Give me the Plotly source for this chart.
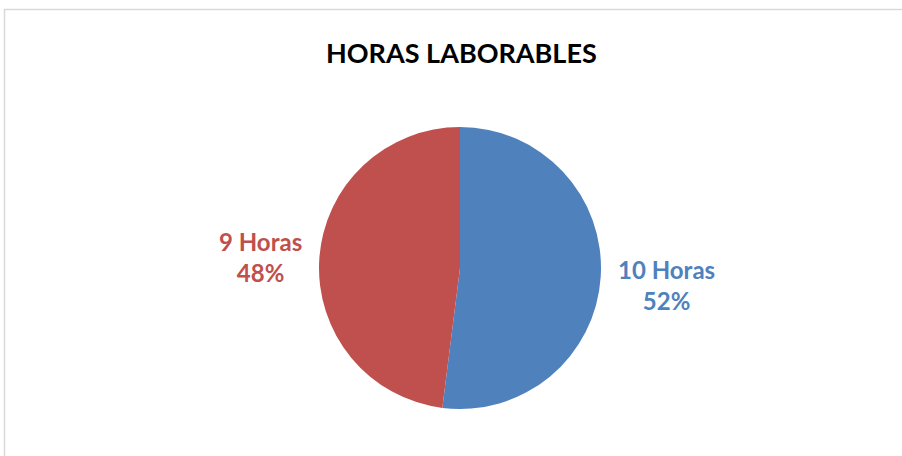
import plotly.graph_objects as go

labels = ["10 Horas", "9 Horas"]
values = [52, 48]
colors = ["#4F81BD", "#C0504D"]
title = "HORAS LABORABLES"

W, H = 902, 456
cx, cy, r = 460, 268, 141

fig = go.Figure(go.Pie(
    labels=labels, values=values, sort=False, direction="clockwise", rotation=0,
    marker=dict(colors=colors, line=dict(color="white", width=0)),
    textinfo="none", hoverinfo="label+percent", showlegend=False,
    domain=dict(x=[(cx - r) / W, (cx + r) / W], y=[(H - cy - r) / H, (H - cy + r) / H]),
))

font = "Lato, Open Sans, sans-serif"
label_pos = {"9 Horas": (260, 257), "10 Horas": (666, 285)}
total = sum(values)
for lab, val, col in zip(labels, values, colors):
    x, y = label_pos[lab]
    fig.add_annotation(x=x / W, y=1 - y / H, xref="paper", yref="paper",
                       text=f"<b>{lab}<br>{round(100 * val / total)}%</b>",
                       showarrow=False, font=dict(family=font, size=24, color=col),
                       align="center", xanchor="center", yanchor="middle")

fig.add_annotation(x=461 / W, y=1 - 52 / H, xref="paper", yref="paper",
                   text=f"<b>{title}</b>", showarrow=False,
                   font=dict(family=font, size=27, color="black"),
                   xanchor="center", yanchor="middle")

fig.add_shape(type="rect", xref="paper", yref="paper",
              x0=4.5 / W, x1=1.05, y0=-0.05, y1=1 - 9.5 / H,
              line=dict(color="#D9D9D9", width=1.5), fillcolor="rgba(0,0,0,0)")

fig.update_layout(width=W, height=H, margin=dict(l=0, r=0, t=0, b=0),
                  paper_bgcolor="white", plot_bgcolor="white")
fig.write_html("out.html", config={"displayModeBar": False},
               post_script="document.body.style.margin='0';document.body.style.overflow='hidden';")
